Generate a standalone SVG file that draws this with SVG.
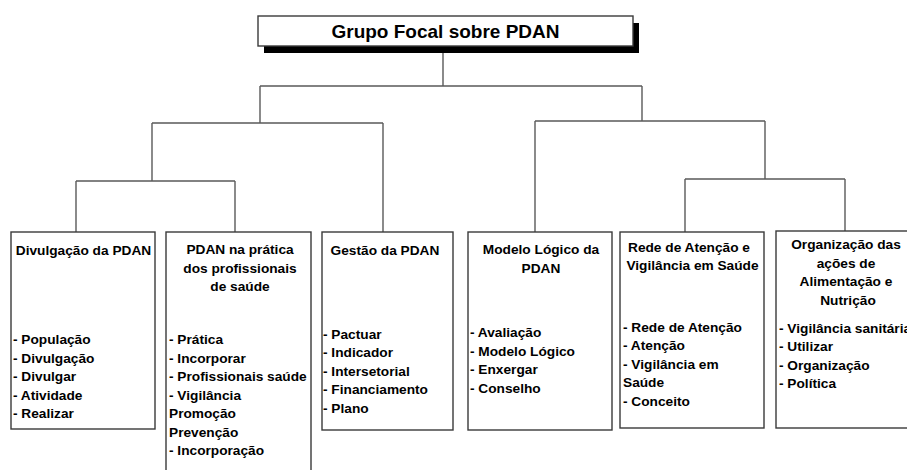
<svg xmlns="http://www.w3.org/2000/svg" width="907" height="470" viewBox="0 0 907 470">
<style>
.bg{fill:#ffffff}
.box{fill:#ffffff;stroke:#3a3a3a;stroke-width:1.4}
.conn{fill:none;stroke:#5a5a5a;stroke-width:1.4}
text{font-family:"Liberation Sans",Arial,sans-serif;font-weight:bold;fill:#000000}
.t{font-size:13.7px}
.h{font-size:19px}
.c{text-anchor:middle}
</style>
<rect class="bg" x="0" y="0" width="907" height="470"/>
<g id="connectors">
<path class="conn" d="M443,46 V86 M260,86 H642 M260,86 V123 M642,86 V121 M152,123 H383 M152,123 V181 M383,123 V232 M76,181 H235 M76,181 V232 M235,181 V232 M535,121 H765 M535,121 V232 M765,121 V179 M685,179 H845 M685,179 V232 M845,179 V231"/>
</g>
<g id="root">
<rect x="264" y="23" width="375" height="30" fill="#000000"/>
<rect class="box" x="258" y="16" width="375" height="30"/>
<text class="h c" x="445.5" y="38">Grupo Focal sobre PDAN</text>
</g>
<g id="divulgacao">
<rect class="box" x="11" y="232" width="144" height="197"/>
<text class="t c" x="83.5" y="255">Divulgação da PDAN</text>
<text class="t" x="13" y="344">- População</text>
<text class="t" x="13" y="362.5">- Divulgação</text>
<text class="t" x="13" y="381">- Divulgar</text>
<text class="t" x="13" y="399.5">- Atividade</text>
<text class="t" x="13" y="418">- Realizar</text>
</g>
<g id="pratica">
<rect class="box" x="166" y="232" width="145" height="260"/>
<text class="t c" x="240" y="254">PDAN na prática</text>
<text class="t c" x="240" y="272.5">dos profissionais</text>
<text class="t c" x="240" y="291">de saúde</text>
<text class="t" x="169" y="344">- Prática</text>
<text class="t" x="169" y="362.5">- Incorporar</text>
<text class="t" x="169" y="381">- Profissionais saúde</text>
<text class="t" x="169" y="399.5">- Vigilância</text>
<text class="t" x="169" y="418">Promoção</text>
<text class="t" x="169" y="436.5">Prevenção</text>
<text class="t" x="169" y="455">- Incorporação</text>
</g>
<g id="gestao">
<rect class="box" x="322" y="232" width="131" height="198"/>
<text class="t c" x="385" y="255">Gestão da PDAN</text>
<text class="t" x="323" y="338.5">- Pactuar</text>
<text class="t" x="323" y="357">- Indicador</text>
<text class="t" x="323" y="375.5">- Intersetorial</text>
<text class="t" x="323" y="394">- Financiamento</text>
<text class="t" x="323" y="412.5">- Plano</text>
</g>
<g id="modelo">
<rect class="box" x="468" y="232" width="144" height="198"/>
<text class="t c" x="541" y="254">Modelo Lógico da</text>
<text class="t c" x="541" y="272.5">PDAN</text>
<text class="t" x="470" y="337">- Avaliação</text>
<text class="t" x="470" y="355.5">- Modelo Lógico</text>
<text class="t" x="470" y="374">- Enxergar</text>
<text class="t" x="470" y="392.5">- Conselho</text>
</g>
<g id="rede">
<rect class="box" x="620" y="232" width="144" height="196"/>
<text class="t c" x="689" y="251.5">Rede de Atenção e</text>
<text class="t c" x="692.5" y="270">Vigilância em Saúde</text>
<text class="t" x="623" y="331.5">- Rede de Atenção</text>
<text class="t" x="623" y="350">- Atenção</text>
<text class="t" x="623" y="368.5">- Vigilância em</text>
<text class="t" x="623" y="387">Saúde</text>
<text class="t" x="623" y="405.5">- Conceito</text>
</g>
<g id="organizacao">
<rect class="box" x="776" y="231" width="140" height="197"/>
<text class="t c" x="846" y="249">Organização das</text>
<text class="t c" x="846" y="267.5">ações de</text>
<text class="t c" x="846" y="286">Alimentação e</text>
<text class="t c" x="848" y="304.5">Nutrição</text>
<text class="t" x="779" y="332.5">- Vigilância sanitária</text>
<text class="t" x="779" y="351">- Utilizar</text>
<text class="t" x="779" y="369.5">- Organização</text>
<text class="t" x="779" y="388">- Política</text>
</g>
</svg>
